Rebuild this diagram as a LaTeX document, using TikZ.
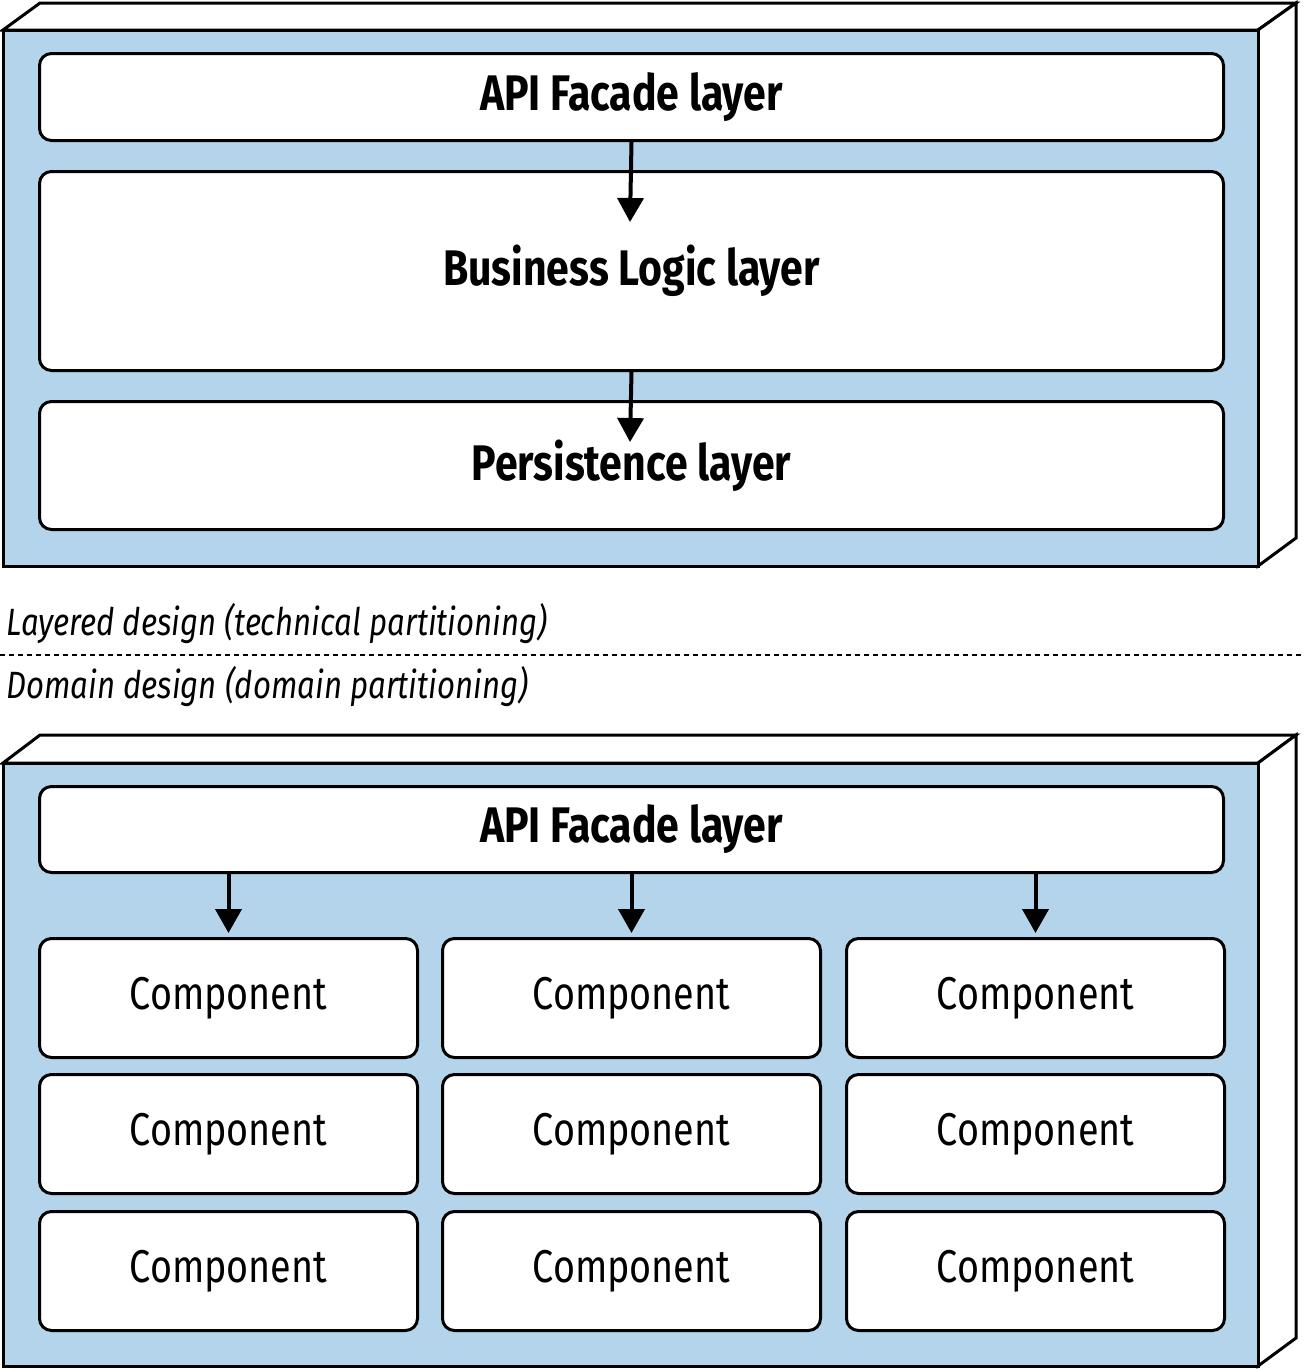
\documentclass[tikz,border=0pt]{standalone}
\usepackage{fontspec}
\setmainfont{Fira Sans}[FakeStretch=0.82]
\usetikzlibrary{arrows.meta,calc}
\definecolor{boxblue}{RGB}{179,212,234}
\tikzset{every picture/.style={line width=3pt}}
\tikzset{
  layerbox/.style={draw, fill=white, rounded corners=12pt, inner sep=0pt},
  flow/.style={-{Triangle[length=24pt,width=26pt]}, line width=4pt},
  capt/.style={anchor=west, inner sep=0pt, font=\fontsize{38}{40}\selectfont\itshape}
}
\begin{document}
\begin{tikzpicture}[x=1pt,y=1pt,yscale=-1]
\useasboundingbox (0,0) rectangle (1305,1369);

%Shape: upper container
\draw [fill=white] (3,30) -- (40,3) -- (1296,3) -- (1258,30) -- cycle ;
\draw [fill=white] (1258,30) -- (1296,3) -- (1296,538) -- (1258,566) -- cycle ;
\draw [fill=boxblue] (3,30) rectangle (1258,566) ;

% layers
\node (apiA) [layerbox, minimum width=1184pt, minimum height=87pt, anchor=north west, font=\fontsize{50}{52}\selectfont\bfseries] at (38,52) {API Facade layer};
\node (busA) [layerbox, minimum width=1184pt, minimum height=199pt, anchor=north west, font=\fontsize{50}{52}\selectfont\bfseries] at (38,170) {Business Logic layer};
\node (perA) [layerbox, minimum width=1184pt, minimum height=128pt, anchor=north west, font=\fontsize{50}{52}\selectfont\bfseries] at (38,400) {Persistence layer};
\coordinate (tipA) at (630,222);
\coordinate (tipB) at (630,442);
\draw [flow] (apiA.south) -- (tipA) ;
\draw [flow] (busA.south) -- (tipB) ;

% captions
\node (capTop) [capt] at (5,623) {Layered design (technical partitioning)};
\coordinate (dashL) at (0,655);
\coordinate (dashR) at (1305,655);
\draw [dashed, line width=1.5pt, dash pattern=on 5pt off 4pt] (dashL) -- (dashR) ;
\node (capBot) [capt] at (5,686) {Domain design (domain partitioning)};

%Shape: lower container
\draw [fill=white] (3,763) -- (40,735) -- (1296,735) -- (1258,763) -- cycle ;
\draw [fill=white] (1258,763) -- (1296,735) -- (1296,1338) -- (1258,1366) -- cycle ;
\draw [fill=boxblue] (3,763) rectangle (1258,1366) ;

\node (apiB) [layerbox, minimum width=1184pt, minimum height=86pt, anchor=north west, font=\fontsize{50}{52}\selectfont\bfseries] at (38,785) {API Facade layer};

% components
\foreach \c/\x in {1/38,2/441,3/845}{
  \foreach \r/\y in {1/937,2/1073,3/1210}{
    \node (comp\c\r) [layerbox, minimum width=378pt, minimum height=119pt, anchor=north west, font=\fontsize{46}{48}\selectfont] at (\x,\y) {Component};
  }
  \coordinate (top\c) at ($(comp\c1.north)+(0,-4)$);
}
\foreach \c in {1,2,3}{
  \draw [flow] (apiB.south -| comp\c1.north) -- (top\c) ;
}

\end{tikzpicture}
\end{document}
